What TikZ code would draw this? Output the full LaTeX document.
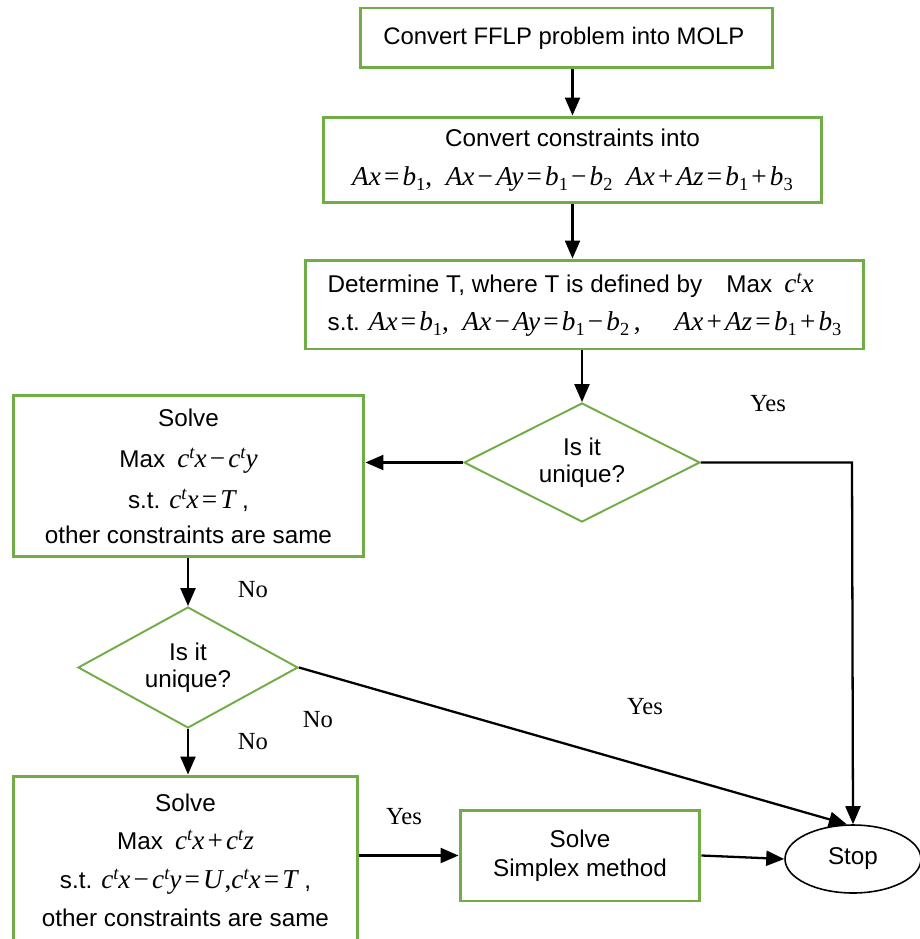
\documentclass[tikz,border=0pt]{standalone}
\usepackage{fontspec}
\setmainfont{Liberation Sans}
\newfontfamily\tm{Liberation Serif}
\usetikzlibrary{shapes.geometric,arrows.meta}
\definecolor{boxgreen}{RGB}{112,173,71}
\newcommand{\V}[1]{{\tm\itshape #1}}
\newcommand{\Sb}[1]{\raisebox{-0.4ex}{\fontsize{10.5}{10}\selectfont\tm #1}}
\newcommand{\Sp}[1]{\raisebox{0.75ex}{\fontsize{10.5}{10}\selectfont\tm\itshape #1}}
\newcommand{\eq}{{\tm\kern1.8pt=\kern1.8pt}}
\newcommand{\mn}{{\tm\kern1.8pt−\kern1.8pt}}
\newcommand{\pl}{{\tm\kern1.8pt+\kern1.8pt}}
\newcommand{\M}[1]{{\fontsize{15.5}{21}\selectfont\tm #1}}
\begin{document}
\begin{tikzpicture}[x=0.02cm,y=-0.02cm,
  every node/.style={font=\fontsize{13.8}{21.5}\selectfont, inner sep=0pt},
  box/.style={draw=boxgreen, line width=1.7pt, align=center},
  dia/.style={draw=boxgreen, line width=1.1pt, diamond, shape aspect=2, align=center, inner sep=0pt, font=\fontsize{13.8}{15.5}\selectfont},
  arr/.style={draw=black, line width=1.3pt, -{Triangle[length=0.36cm,width=0.3cm]}},
  lab/.style={font=\fontsize{14}{16}\selectfont\tm}]
\useasboundingbox (0,0) rectangle (919,939);

\node[box, minimum width=8.26cm, minimum height=1.2cm, font=\fontsize{13.6}{15}\selectfont] (b1) at (566.5,38) {Convert FFLP problem into MOLP\kern3pt};
\node[box, minimum width=9.98cm, minimum height=1.72cm] (b2) at (572.5,160)
 {Convert constraints into\\[1pt]
 \M{\V{Ax}\eq\V{b}\Sb{1},\enspace \V{Ax}\mn\V{Ay}\eq\V{b}\Sb{1}\mn\V{b}\Sb{2}\enspace \V{Ax}\pl\V{Az}\eq\V{b}\Sb{1}\pl\V{b}\Sb{3}}};
\node[box, minimum width=11.18cm, minimum height=1.78cm, align=left] (b3) at (584.5,304.5)
 {Determine T, where T is defined by\quad Max\enspace \M{\V{c}\Sp{t}\V{x}}\\
 s.t. \M{\V{Ax}\eq\V{b}\Sb{1},\enspace \V{Ax}\mn\V{Ay}\eq\V{b}\Sb{1}\mn\V{b}\Sb{2}\,,\quad\ \V{Ax}\pl\V{Az}\eq\V{b}\Sb{1}\pl\V{b}\Sb{3}}};
\node[dia, minimum width=4.72cm, minimum height=2.38cm] (d1) at (582,462.5) {Is it\\unique?};
\node[box, minimum width=7.02cm, minimum height=3.24cm] (b4) at (188.5,476)
 {Solve\\[2pt]
 Max\enspace \M{\V{c}\Sp{t}\V{x}\mn\V{c}\Sp{t}\V{y}}\\[2pt]
 s.t. \M{\V{c}\Sp{t}\V{x}\eq\V{T}}\ ,\\[-2pt]
 other constraints are same};
\node[dia, minimum width=4.4cm, minimum height=2.42cm] (d2) at (188,667.5) {Is it\\unique?};
\node[box, minimum width=6.9cm, minimum height=3.38cm] (b5) at (185.5,860.5)
 {Solve\\
 Max\enspace \M{\V{c}\Sp{t}\V{x}\pl\V{c}\Sp{t}\V{z}}\\[1pt]
 s.t. \M{\V{c}\Sp{t}\V{x}\mn\V{c}\Sp{t}\V{y}\eq\V{U}\kern1pt,\V{c}\Sp{t}\V{x}\eq\V{T}}\ ,\\
 other constraints are same};
\node[box, minimum width=4.8cm, minimum height=1.82cm, font=\fontsize{13.8}{16.5}\selectfont] (b6) at (580,855.5) {Solve\\Simplex method};
\node[draw=black, line width=0.9pt, ellipse, minimum width=2.72cm, minimum height=1.36cm] (stop) at (853,859) {Stop};

\coordinate (c1) at (852,462.5);

\draw[arr] (b1.south -| b2.north) -- (b2.north);
\draw[arr] (b2.south) -- (b2.south |- b3.north);
\draw[arr] (b3.south -| d1.north) -- (d1.north);
\draw[arr] (d1.west) -- (b4.east |- d1.west);
\draw[arr] (d1.east) -- (c1) -- (stop.north);
\draw[arr] (b4.south -| d2.north) -- (d2.north);
\draw[arr] (d2.east) -- (stop.100);
\draw[arr] (d2.south) -- (d2.south |- b5.north);
\draw[arr] (b5.east |- b6.west) -- (b6.west);
\draw[arr] (b6.east) -- (stop.west);

\node[lab] (y1) at (768,404) {Yes};
\node[lab] (n1) at (253,590) {No};
\node[lab] (y2) at (645,707) {Yes};
\node[lab] (n2) at (318,720) {No};
\node[lab] (n3) at (253,742) {No};
\node[lab] (y3) at (404,817) {Yes};
\end{tikzpicture}
\end{document}
